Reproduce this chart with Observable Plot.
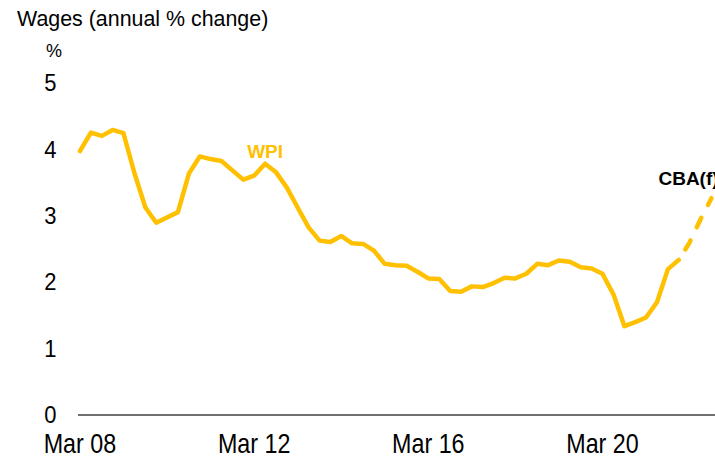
<!DOCTYPE html>
<html>
<head>
<meta charset="utf-8">
<script src="https://cdn.jsdelivr.net/npm/d3@7"></script>
<script src="https://cdn.jsdelivr.net/npm/@observablehq/plot@0.6"></script>
<style>
  html, body { margin: 0; padding: 0; background: #fff; overflow: hidden; }
  #wrap { width: 715px; }
  #hdr { position: relative; height: 62px; font-family: "Liberation Sans", Arial, sans-serif; color: #000; }
  #title { position: absolute; left: 17px; top: 8.7px; font-size: 21.4px; line-height: 21.4px; white-space: nowrap; }
  #unit { position: absolute; left: 46px; top: 42px; font-size: 18px; line-height: 18px; }
</style>
</head>
<body>
<div id="wrap">
  <div id="hdr">
    <div id="title">Wages (annual % change)</div>
    <div id="unit">%</div>
  </div>
  <div id="chart"></div>
</div>
<script>
// ---- data ----
const firstQuarter = "2008-03-01";          // Mar 08
const wpiValues = [
  3.98, 4.26, 4.21, 4.30, 4.25, 3.65, 3.13, 2.90, 2.98, 3.06,
  3.64, 3.90, 3.86, 3.83, 3.69, 3.55, 3.61, 3.79, 3.66, 3.43,
  3.13, 2.83, 2.63, 2.61, 2.70, 2.59, 2.58, 2.48, 2.28, 2.26,
  2.25, 2.16, 2.06, 2.05, 1.87, 1.86, 1.94, 1.93, 1.99, 2.07,
  2.06, 2.13, 2.28, 2.26, 2.33, 2.31, 2.23, 2.21, 2.13, 1.82,
  1.34, 1.40, 1.47, 1.70, 2.20, 2.34
];
const forecastFirstQuarter = "2021-12-01";  // Dec 21 (last actual)
const forecastValues = [2.34, 2.60, 2.95, 3.27];
const xTickDates = ["2008-03-01", "2012-03-01", "2016-03-01", "2020-03-01"];
const yTicks = [0, 1, 2, 3, 4, 5];
const seriesNames = ["WPI", "CBA(f)"];
const labelQuarterIndex = 17; // WPI label sits above Jun 12

// ---- build tables ----
const q0 = new Date(firstQuarter + "T00:00:00Z");
const wpi = wpiValues.map((v, i) => ({date: d3.utcMonth.offset(q0, 3 * i), value: v}));
const f0 = new Date(forecastFirstQuarter + "T00:00:00Z");
const fc = forecastValues.map((v, i) => ({date: d3.utcMonth.offset(f0, 3 * i), value: v}));
const ticks = xTickDates.map(s => new Date(s + "T00:00:00Z"));

const sans = "'Liberation Sans', Arial, sans-serif";
const gold = "#FFC000";

const chart = Plot.plot({
  width: 715,
  height: 411,
  marginLeft: 78,
  marginRight: 0,
  marginTop: 21,
  marginBottom: 58.5,
  style: {background: "#fff", color: "#000", fontFamily: sans, overflow: "hidden"},
  x: {type: "utc", domain: [new Date("2008-02-18T00:00:00Z"), new Date("2022-10-05T00:00:00Z")]},
  y: {domain: [0, 5]},
  marks: [
    Plot.axisY({ticks: yTicks, tickSize: 0, tickPadding: 22, fontSize: 22, fontFamily: sans,
                tickFormat: d3.format("d"), label: null}),
    Plot.axisX({ticks: ticks, tickSize: 0, tickPadding: 19, fontSize: 23.3, fontFamily: sans,
                tickFormat: d3.utcFormat("%b %y"), label: null}),
    Plot.ruleY([0], {stroke: "#404040", strokeWidth: 1.3}),
    Plot.line(wpi, {x: "date", y: "value", stroke: gold, strokeWidth: 4.5}),
    Plot.line(fc, {x: "date", y: "value", stroke: gold, strokeWidth: 4.5,
                   strokeDasharray: "10.5,14.5", strokeDashoffset: 12.75, strokeLinecap: "round"}),
    Plot.text([wpi[labelQuarterIndex]], {x: "date", y: "value", text: () => seriesNames[0],
                   dy: -12, fontSize: 19, fontWeight: "bold", fill: gold, fontFamily: sans}),
    Plot.text([fc[fc.length - 1]], {x: "date", y: "value", text: () => seriesNames[1],
                   textAnchor: "start", dx: -53, dy: -19.3, fontSize: 19, fontWeight: "bold", fill: "#000", fontFamily: sans})
  ]
});

// The reference's tick labels are drawn slightly condensed (taller than wide): stretch them vertically.
function stretch(sel, s) {
  chart.querySelectorAll(sel).forEach(t => {
    const tr = t.getAttribute("transform") || "";
    const x = +t.getAttribute("x") || 0, y = +t.getAttribute("y") || 0;
    t.setAttribute("transform", `${tr} translate(${x},${y}) scale(1,${s}) translate(${-x},${-y})`);
  });
}
stretch('g[aria-label="x-axis tick label"] text', 1.17);
stretch('g[aria-label="y-axis tick label"] text', 1.12);

document.getElementById("chart").append(chart);
</script>
</body>
</html>
